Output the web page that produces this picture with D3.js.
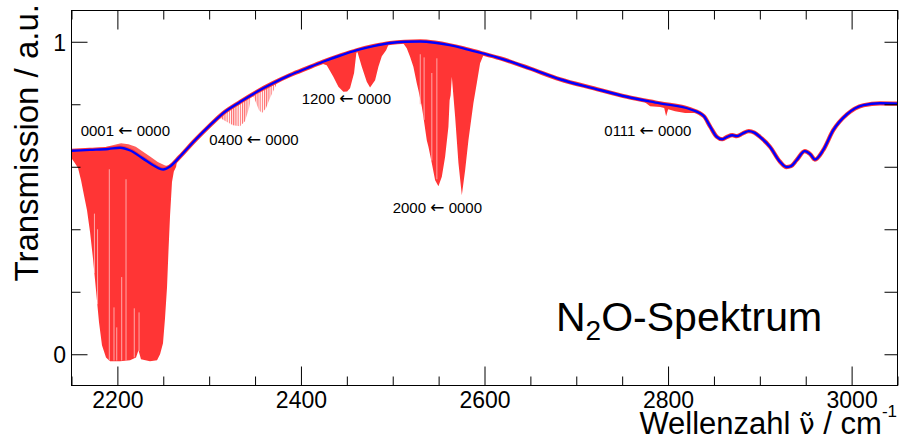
<!DOCTYPE html>
<html>
<head>
<meta charset="utf-8">
<script src="https://cdn.jsdelivr.net/npm/d3@7"></script>
<style>
body { margin: 0; background: #fff; }
svg { font-family: "Liberation Sans", Arial, sans-serif; }
</style>
</head>
<body>
<svg width="900" height="441"></svg>
<script>
// smooth background (blue), [wavenumber, transmission]
var baseline = [[2150,0.651],[2170,0.654],[2190,0.657],[2203,0.661],[2214,0.652],[2228,0.626],[2239,0.605],
  [2250,0.591],[2257,0.600],[2268,0.632],[2283,0.680],[2301,0.733],[2315,0.771],[2334,0.808],[2352,0.840],
  [2370,0.868],[2388,0.893],[2407,0.916],[2424,0.936],[2443,0.956],[2461,0.973],[2479,0.986],[2497,0.996],
  [2513,1.000],[2530,1.001],[2546,0.997],[2562,0.989],[2577,0.979],[2595,0.965],[2617,0.947],[2650,0.914],
  [2682,0.880],[2719,0.851],[2755,0.824],[2791,0.803],[2824,0.784],[2839,0.762],[2846,0.728],[2853,0.696],
  [2859,0.688],[2864,0.695],[2870,0.701],[2875,0.698],[2881,0.706],[2888,0.714],[2894,0.709],[2900,0.696],
  [2911,0.664],[2922,0.616],[2929,0.599],[2934,0.602],[2940,0.621],[2949,0.650],[2955,0.640],[2960,0.623],
  [2969,0.653],[2980,0.717],[2995,0.768],[3013,0.797],[3031,0.803],[3050,0.802]];

// lower envelope of the absorption lines (red), per band
var band0001 = [[2150,0.627],[2153.8,0.611],[2157.1,0.596],[2160.4,0.557],[2163.6,0.509],[2166.9,0.461],
  [2170.2,0.391],[2173.4,0.307],[2176.7,0.205],[2180.0,0.102],[2183.2,0.029],[2187.6,-0.010],[2192.0,-0.022],
  [2202.9,-0.022],[2213.8,-0.019],[2220.3,-0.010],[2223.0,0.013],[2225.7,-0.016],[2235.5,-0.022],
  [2243.2,-0.019],[2246.5,0.0],[2249.7,0.035],[2251.9,0.115],[2254.1,0.215],[2255.7,0.333],[2257.4,0.445],
  [2259.5,0.551],[2261.5,0.585],[2264.0,0.600],[2266.0,0.640]];
var band0400 = [[2303.1,0.752],[2311.9,0.756],[2319.5,0.743],[2326.0,0.733],[2333.6,0.730],[2339.0,0.746],
  [2343.5,0.788],[2346.7,0.836],[2350.0,0.813],[2354.3,0.781],[2357.6,0.772],[2362.0,0.788],[2366.3,0.820],
  [2372.9,0.861],[2377.2,0.890]];
var band1200 = [[2418,0.945],[2420.8,0.932],[2428.1,0.925],[2435.3,0.888],[2440.8,0.856],[2446.2,0.840],
  [2450.3,0.841],[2453.5,0.851],[2457.9,0.900],[2460.8,0.975],[2462.6,0.957],[2466.3,0.920],[2471.7,0.872],
  [2475.3,0.854],[2480.8,0.877],[2484.4,0.920],[2488.1,0.954],[2492.8,0.973],[2496,0.995]];
var band2000 = [[2509.9,1.002],[2515.3,0.979],[2518.9,0.952],[2522.5,0.920],[2526.2,0.867],[2528.0,0.845],
  [2531.7,0.792],[2533.4,0.760],[2537.1,0.685],[2538.9,0.664],[2542.6,0.611],[2546.2,0.557],[2549.8,0.538],
  [2553.5,0.568],[2557.1,0.632],[2560.7,0.728],[2562.0,0.813],[2563.1,0.829],[2564.4,0.888],[2568.0,0.760],
  [2571.6,0.612],[2575.3,0.509],[2578.9,0.589],[2582.5,0.685],[2587.9,0.803],[2591.6,0.867],[2595.2,0.931],
  [2598.8,0.957],[2602.5,0.975]];
var band0111 = [[2769.6,0.818],[2780.5,0.794],[2791.4,0.791],[2795.8,0.788],[2797.9,0.762],[2800.1,0.784],
  [2807.7,0.778],[2818.6,0.772],[2829.5,0.772],[2835,0.790]];
var bands = [band0001, band0400, band1200, band2000, band0111];
var paleBands = [band0400];

// noisy upper edge of the red spectrum above the fit
var upper0001 = [[2180,0.655],[2188,0.664],[2196,0.670],[2204,0.675],[2212,0.672],[2220,0.664],
  [2228,0.648],[2236,0.632],[2244,0.615],[2252,0.604],[2258,0.602]];

// light gaps between resolved lines: [wavenumber, top, bottom]
var gaps = [[2191.2,0.592,-0.02],[2209.4,0.560,-0.02],[2196.3,0.150,-0.02],[2199.3,0.086,-0.02],
  [2204.7,0.247,-0.02],[2218.4,0.147,-0.01],[2223.6,0.134,0.01],[2175.0,0.45,0.26],[2178.4,0.40,0.16],
  [2548.1,0.947,0.56],[2542.6,0.90,0.62],[2534.2,0.95,0.75],[2530.0,0.96,0.80]];

var labels = ["0001 \u2190 0000", "0400 \u2190 0000", "1200 \u2190 0000", "2000 \u2190 0000", "0111 \u2190 0000"];
var labelPos = [[80.7,136],[209.3,145],[301.7,104],[392.7,212.7],[604.3,136]];

var xMajor = [2200, 2400, 2600, 2800, 3000];
var xMinor = d3.range(2150, 3051, 50);
var yMajor = [0, 1];
var yMinor = [0.2, 0.4, 0.6, 0.8];

var svg = d3.select("svg");
var x = d3.scaleLinear().domain([2150, 3050]).range([71.5, 897.5]);
var y = d3.scaleLinear().domain([-0.1, 1.1]).range([385.5, 10.5]);
var red = "#ff3535";

var defs = svg.append("defs");
defs.append("clipPath").attr("id", "plot")
  .append("rect").attr("x", 71.5).attr("y", 10.5).attr("width", 826).attr("height", 375);
defs.append("clipPath").attr("id", "under")
  .append("path")
  .attr("d", d3.area().x(d => x(d[0])).y0(385.5).y1(d => y(d[1])).curve(d3.curveMonotoneX)(baseline));
defs.append("clipPath").attr("id", "over")
  .append("path")
  .attr("d", d3.area().x(d => x(d[0])).y0(10.5).y1(d => y(d[1])).curve(d3.curveMonotoneX)(baseline));
var pat = defs.append("pattern").attr("id", "comb").attr("patternUnits", "userSpaceOnUse")
  .attr("width", 2.2).attr("height", 10);
pat.append("rect").attr("width", 1.1).attr("height", 10).attr("fill", red).attr("opacity", 0.75);

var plot = svg.append("g").attr("clip-path", "url(#plot)");
var line = d3.line().x(d => x(d[0])).y(d => y(d[1])).curve(d3.curveMonotoneX);

// red measured spectrum
plot.append("path").datum(baseline).attr("d", line)
  .attr("fill", "none").attr("stroke", red).attr("stroke-width", 4.2);
plot.append("g").attr("clip-path", "url(#over)")
  .append("path").datum(upper0001)
  .attr("d", d3.area().x(d => x(d[0])).y0(d => y(d[1])).y1(385.5))
  .attr("fill", red).attr("opacity", 0.8);

var bandG = plot.append("g").attr("clip-path", "url(#under)");
bandG.selectAll("path.band").data(bands).enter().append("path")
  .attr("class", "band")
  .attr("d", d3.area().x(d => x(d[0])).y0(d => y(d[1])).y1(10.5))
  .attr("fill", d => paleBands.indexOf(d) >= 0 ? "url(#comb)" : red);

bandG.selectAll("line.gap").data(gaps).enter().append("line")
  .attr("x1", d => x(d[0])).attr("x2", d => x(d[0]))
  .attr("y1", d => y(d[1])).attr("y2", d => y(d[2]))
  .attr("stroke", "#ffb4b4").attr("stroke-width", 0.9);

// blue fit
plot.append("path").datum(baseline).attr("d", line)
  .attr("fill", "none").attr("stroke", "#0000ff").attr("stroke-width", 2.4);

// annotations (arrow taken from DejaVu, which draws it full width)
svg.selectAll("text.ann").data(labels).enter().append("text")
  .attr("class", "ann")
  .attr("x", (d, i) => labelPos[i][0]).attr("y", (d, i) => labelPos[i][1])
  .attr("font-size", 15).attr("fill", "#000")
  .each(function(d) {
    var parts = d.split("\u2190");
    var t = d3.select(this);
    t.append("tspan").text(parts[0]);
    t.append("tspan").attr("font-family", "DejaVu Sans").attr("font-size", 17).text("\u2190");
    t.append("tspan").text(parts[1]);
  });

// frame and axes
svg.append("rect").attr("x", 71.5).attr("y", 10.5).attr("width", 826).attr("height", 375)
  .attr("fill", "none").attr("stroke", "#000").attr("stroke-width", 1);

function clean(g) {
  g.select(".domain").remove();
  g.selectAll(".tick line").attr("stroke", "#000");
  g.selectAll("text").style("font-family", "'Liberation Sans', Arial, sans-serif").style("font-size", "23px").attr("fill", "#000");
}
svg.append("g").attr("transform", "translate(0,385.5)")
  .call(d3.axisBottom(x).tickValues(xMajor).tickSize(-19).tickPadding(6.5).tickFormat(d3.format("d"))).call(clean);
svg.append("g").attr("transform", "translate(0,385.5)")
  .call(d3.axisBottom(x).tickValues(xMinor.filter(v => xMajor.indexOf(v) < 0)).tickSize(-9).tickFormat("")).call(clean);
svg.append("g").attr("transform", "translate(0,10.5)")
  .call(d3.axisTop(x).tickValues(xMajor).tickSize(-19).tickFormat("")).call(clean);
svg.append("g").attr("transform", "translate(0,10.5)")
  .call(d3.axisTop(x).tickValues(xMinor.filter(v => xMajor.indexOf(v) < 0)).tickSize(-9).tickFormat("")).call(clean);
var yl = svg.append("g").attr("transform", "translate(71.5,0)")
  .call(d3.axisLeft(y).tickValues(yMajor).tickSize(-16).tickPadding(5.5).tickFormat(d3.format("d"))).call(clean);
yl.selectAll("text").attr("dy", "0.37em");
svg.append("g").attr("transform", "translate(71.5,0)")
  .call(d3.axisLeft(y).tickValues(yMinor).tickSize(-9).tickFormat("")).call(clean);
svg.append("g").attr("transform", "translate(897.5,0)")
  .call(d3.axisRight(y).tickValues(yMajor.concat(yMinor)).tickSize(-13).tickFormat("")).call(clean);

// titles
svg.append("text").attr("transform", "translate(38,4) rotate(-90)")
  .attr("text-anchor", "end").attr("font-size", 33).text("Transmission / a.u.");
var xt = svg.append("text").attr("x", 897).attr("y", 434).attr("text-anchor", "end").attr("font-size", 31);
xt.append("tspan").text("Wellenzahl ");
xt.append("tspan").attr("font-family", "DejaVu Sans").attr("font-size", 28).text("\u03bd\u0303");
xt.append("tspan").text(" / cm");
xt.append("tspan").attr("font-size", 17).attr("dy", -17).text("-1");

var tt = svg.append("text").attr("x", 556).attr("y", 331).attr("font-size", 41);
tt.append("tspan").text("N");
tt.append("tspan").attr("font-size", 28).attr("dy", 9).text("2");
tt.append("tspan").attr("dy", -9).text("O-Spektrum");
</script>
</body>
</html>
